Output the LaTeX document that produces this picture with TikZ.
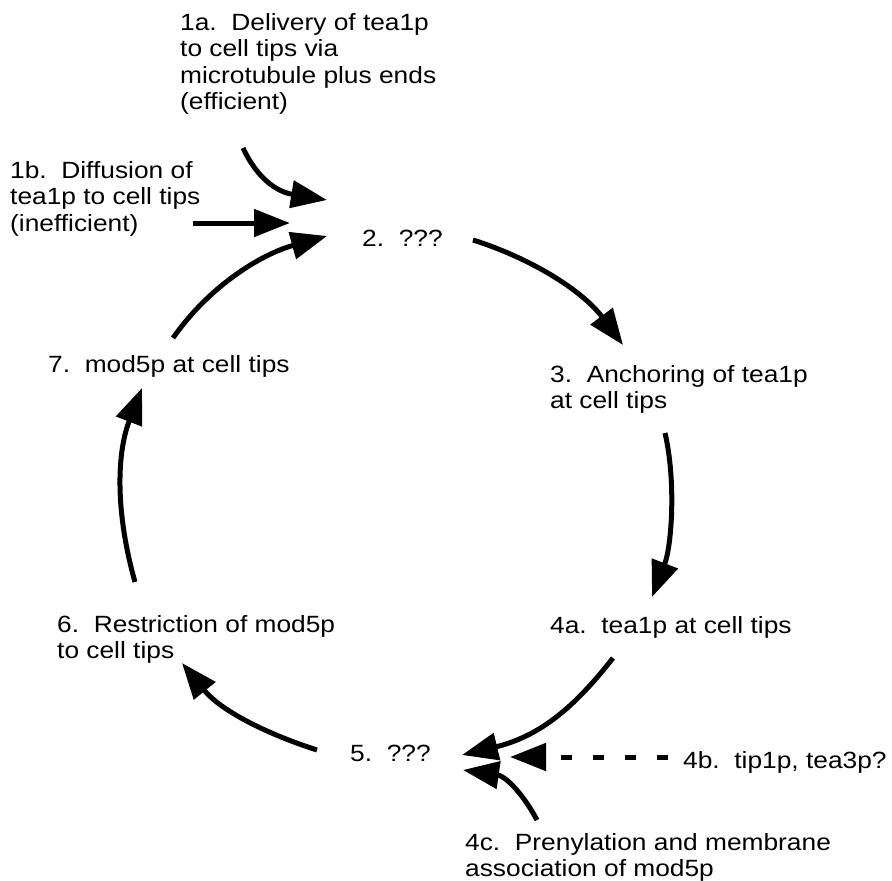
\documentclass[tikz,border=0pt]{standalone}
\usepackage{fontspec}
\setmainfont{Liberation Sans}[FakeStretch=1.12]
\usetikzlibrary{arrows.meta}
\begin{document}
\begin{tikzpicture}[x=1pt,y=-1pt,
  lbl/.style={anchor=north west,inner sep=0pt,align=left,
    font=\fontsize{23.5}{26.5}\selectfont},
  flow/.style={line width=5pt,-{Triangle[length=36pt,width=27pt]}},
  dflow/.style={flow,dash pattern=on 11pt off 21pt}]
\useasboundingbox (0,0) rectangle (892,881);
% labels
\node[lbl] (n1a) at (180,13) {1a.\ \ Delivery of tea1p\\to cell tips via\\microtubule plus ends\\(efficient)};
\node[lbl] (n1b) at (10,161) {1b.\ \ Diffusion of\\tea1p to cell tips\\(inefficient)};
\node[lbl] (n2) at (362,230) {2.\ \ ???};
\node[lbl] (n3) at (550,365) {3.\ \ Anchoring of tea1p\\at cell tips};
\node[lbl] (n4a) at (550,616) {4a.\ \ tea1p at cell tips};
\node[lbl] (n4b) at (683,751) {4b.\ \ tip1p, tea3p?};
\node[lbl] (n4c) at (465,833) {4c.\ \ Prenylation and membrane\\association of mod5p};
\node[lbl] (n5) at (350,745) {5.\ \ ???};
\node[lbl] (n6) at (57,615) {6.\ \ Restriction of mod5p\\to cell tips};
\node[lbl] (n7) at (48,355) {7.\ \ mod5p at cell tips};
% connector end points
\coordinate (a1s) at (243,148); \coordinate (a1e) at (327,200);
\coordinate (b1s) at (193,223); \coordinate (b1e) at (290,223);
\coordinate (s7) at (173,338);  \coordinate (e2a) at (327,236);
\coordinate (s2) at (473,240);  \coordinate (e3) at (623,345);
\coordinate (s3) at (665,433);  \coordinate (e4a) at (652,597);
\coordinate (s4a) at (613,658); \coordinate (e5a) at (462,755);
\coordinate (s4b) at (668,757); \coordinate (e5b) at (510,757);
\coordinate (s4c) at (537,820); \coordinate (e5c) at (463,770);
\coordinate (s5) at (317,750);  \coordinate (e6) at (182,663);
\coordinate (s6) at (135,582);  \coordinate (e7) at (142,388);
% connectors
\draw[flow] (a1s) .. controls (258,180) and (278,192) .. (a1e);
\draw[flow] (b1s) -- (b1e);
\draw[flow] (s7) .. controls (210,285) and (262,254) .. (e2a);
\draw[flow] (s2) .. controls (530,258) and (582,290) .. (e3);
\draw[flow] (s3) .. controls (676,480) and (672,545) .. (e4a);
\draw[flow] (s4a) .. controls (580,700) and (545,735) .. (e5a);
\draw[dflow] (s4b) -- (e5b);
\draw[flow] (s4c) .. controls (522,792) and (505,776) .. (e5c);
\draw[flow] (s5) .. controls (270,735) and (222,712) .. (e6);
\draw[flow] (s6) .. controls (116,515) and (116,455) .. (e7);
\end{tikzpicture}
\end{document}
